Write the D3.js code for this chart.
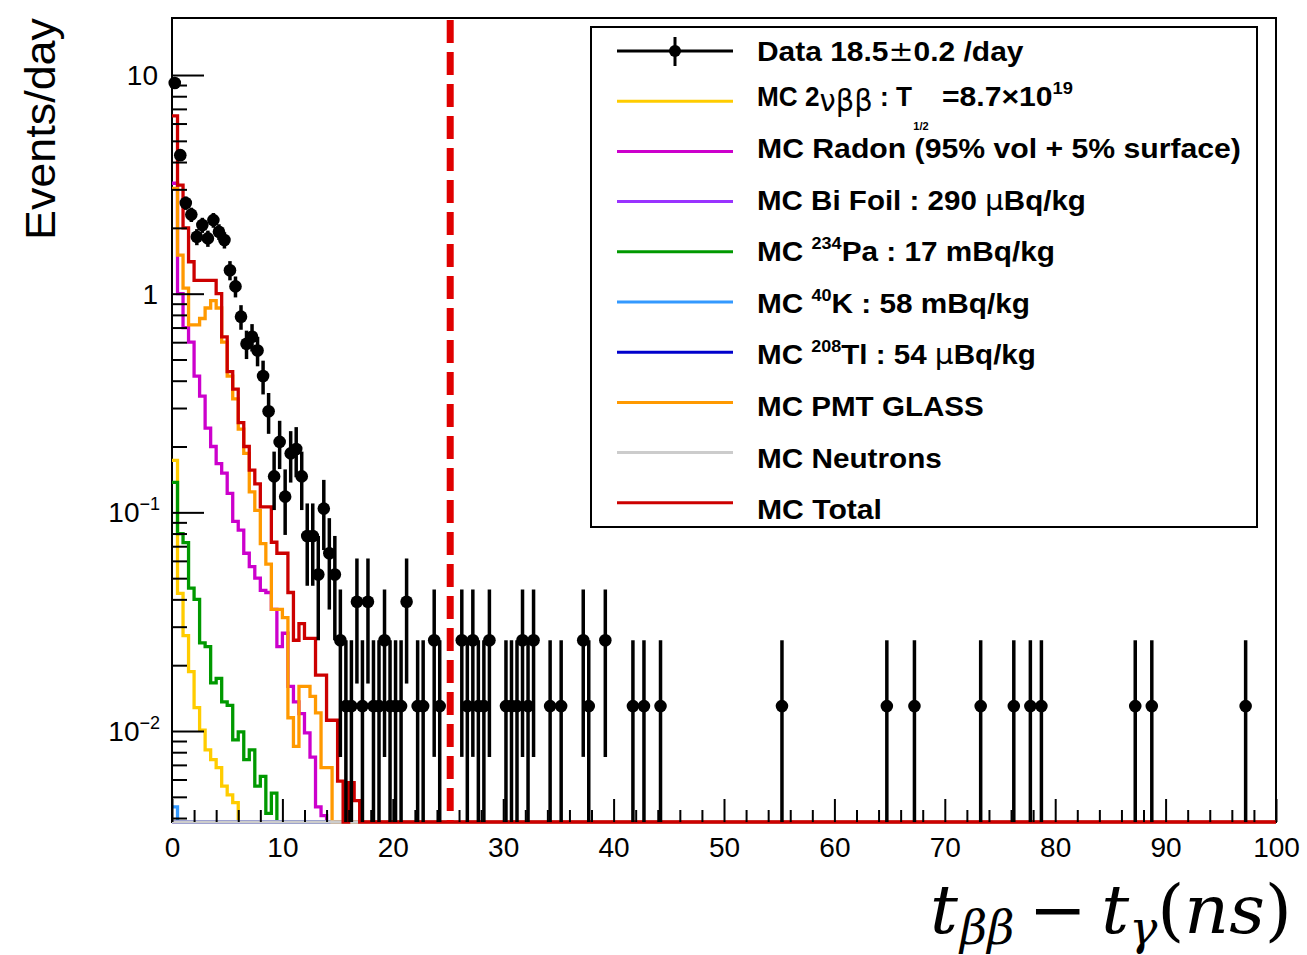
<!DOCTYPE html>
<html>
<head>
<meta charset="utf-8">
<script src="https://cdn.jsdelivr.net/npm/d3@7"></script>
<style>
  html, body { margin: 0; padding: 0; background: #ffffff; }
  svg { display: block; }
</style>
</head>
<body>
<svg id="chart" width="1307" height="955"></svg>
<script>
// ---------------- data ----------------
const binWidthNs = 0.5;          // histogram bin width in ns
const eventWeight = 0.013;       // events/day carried by one recorded event
const xTickValues = [0, 10, 20, 30, 40, 50, 60, 70, 80, 90, 100];
const yTickValues = [0.01, 0.1, 1, 10];
const yTickBase   = ["10", "10", "1", "10"];
const yTickPower  = ["\u22122", "\u22121", "", ""];
const cutTimeNs = 25.2;

// MC histograms, events/day per 0.5 ns bin starting at 0 ns (later bins are empty)
const mc2nbb    = [0.173, 0.0426, 0.0273, 0.0187, 0.0128, 0.0101, 0.0082, 0.0074, 0.0068, 0.0056, 0.0051, 0.0047];
const mcRadon   = [3.2, 1.0, 0.70, 0.60, 0.42, 0.34, 0.243, 0.20, 0.167, 0.151, 0.122, 0.091, 0.083, 0.065,
                   0.0565, 0.050, 0.044, 0.043, 0.036, 0.0243, 0.028, 0.016, 0.0136, 0.012, 0.0098, 0.0076,
                   0.0045, 0.0041];
const mcBiFoil  = [];
const mcPa234   = [0.137, 0.080, 0.0727, 0.045, 0.040, 0.0253, 0.0243, 0.0166, 0.0174, 0.0136, 0.0131, 0.0091,
                   0.0099, 0.0074, 0.0082, 0.0056, 0.0062, 0.0042, 0.0052];
const mcK40     = [0.0045];
const mcTl208   = [];
const mcPmtGlass= [3.03, 1.50, 1.06, 0.72, 0.72, 0.77, 0.86, 0.93, 0.86, 0.60, 0.42, 0.33, 0.24, 0.186, 0.124,
                   0.102, 0.072, 0.058, 0.036, 0.036, 0.033, 0.0115, 0.0085, 0.016, 0.016, 0.0144, 0.0121,
                   0.0068, 0.0068];
const mcNeutrons= [];
const mcTotal   = [6.5, 3.14, 2.0, 1.40, 1.15, 1.15, 1.15, 1.15, 1.0, 0.635, 0.44, 0.366, 0.257, 0.20, 0.156,
                   0.135, 0.106, 0.106, 0.073, 0.065, 0.065, 0.043, 0.026, 0.031, 0.0265, 0.0265, 0.018, 0.018,
                   0.0112, 0.0112, 0.0059, 0, 0.0058, 0.0048];

// Data: bin centres (ns) and rates (events/day)
const dataCentres = [
  0.25, 0.75, 1.25, 1.75, 2.25, 2.75, 3.25, 3.75, 4.25, 4.75,
  5.25, 5.75, 6.25, 6.75, 7.25, 7.75, 8.25, 8.75, 9.25, 9.75,
  10.25, 10.75, 11.25, 11.75, 12.25, 12.75, 13.25, 13.75, 14.25, 14.75,
  15.25, 15.75, 16.25, 16.75, 17.25, 17.75, 18.25, 18.75, 19.25, 19.75,
  20.25, 20.75, 21.25, 22.25, 22.75, 23.75, 24.25, 26.25, 26.75, 27.25,
  27.75, 28.25, 28.75, 30.25, 30.75, 31.25, 31.75, 32.25, 32.75, 34.25,
  35.25, 37.25, 37.75, 39.25, 41.75, 42.75, 44.25, 55.25, 64.75, 67.25,
  73.25, 76.25, 77.75, 78.75, 87.25, 88.75, 97.25
];
const dataRates = [
  9.2, 4.3, 2.6, 2.3, 1.82, 2.06, 1.79, 2.17, 1.92, 1.76,
  1.28, 1.08, 0.785, 0.59, 0.635, 0.55, 0.42, 0.29, 0.146, 0.21,
  0.118, 0.186, 0.195, 0.146, 0.078, 0.078, 0.052, 0.104, 0.065, 0.052,
  0.026, 0.013, 0.013, 0.039, 0.013, 0.039, 0.013, 0.013, 0.026, 0.013,
  0.013, 0.013, 0.039, 0.013, 0.013, 0.026, 0.013, 0.026, 0.013, 0.026,
  0.013, 0.013, 0.026, 0.013, 0.013, 0.013, 0.026, 0.013, 0.026, 0.013,
  0.013, 0.026, 0.013, 0.026, 0.013, 0.013, 0.013, 0.013, 0.013, 0.013,
  0.013, 0.013, 0.013, 0.013, 0.013, 0.013, 0.013
];

// Legend labels (text segments; sup = superscript, sym = symbol glyph)
const legendLabels = [
  [{t: "Data 18.5"}, {t: "\u00B1", sym: true}, {t: "0.2 /day"}],
  [{t: "MC 2"}, {t: "\u03BD\u03B2\u03B2", sym: true, low: true}, {t: " : T"}],
  [{t: "MC Radon (95% vol + 5% surface)"}],
  [{t: "MC Bi Foil : 290 "}, {t: "\u03BC", sym: true}, {t: "Bq/kg"}],
  [{t: "MC "}, {t: "234", sup: true}, {t: "Pa : 17 mBq/kg"}],
  [{t: "MC "}, {t: "40", sup: true}, {t: "K : 58 mBq/kg"}],
  [{t: "MC "}, {t: "208", sup: true}, {t: "Tl : 54 "}, {t: "\u03BC", sym: true}, {t: "Bq/kg"}],
  [{t: "MC PMT GLASS"}],
  [{t: "MC Neutrons"}],
  [{t: "MC Total"}]
];
const halfLifeSub = "1/2";
const halfLifeValue = [{t: "=8.7\u00D710"}, {t: "19", sup: true}];
const legendColors = ["#000000", "#ffcc00", "#cc00cc", "#9933ff", "#009900", "#3399ff", "#0000cc", "#ff9900", "#cccccc", "#cc0000"];

// ---------------- layout ----------------
const SANS = "'Liberation Sans', Arial, Helvetica, sans-serif";
const frame = {left: 172, right: 1276, top: 18, bottom: 822};
const yMin = 0.003836, yMax = 18.23;
const nBins = 200;

const svg = d3.select("#chart");
svg.append("rect").attr("width", 1307).attr("height", 955).attr("fill", "#fff");

const x = d3.scaleLinear().domain([0, 100]).range([frame.left, frame.right]);
const y = d3.scaleLog().domain([yMin, yMax]).range([frame.bottom, frame.top]);

// frame
svg.append("rect")
  .attr("x", frame.left).attr("y", frame.top)
  .attr("width", frame.right - frame.left).attr("height", frame.bottom - frame.top)
  .attr("fill", "none").attr("stroke", "#000").attr("stroke-width", 2);

// ---------------- histograms ----------------
const histSeries = [
  {values: mc2nbb,     color: legendColors[1]},
  {values: mcRadon,    color: legendColors[2]},
  {values: mcBiFoil,   color: legendColors[3]},
  {values: mcPa234,    color: legendColors[4]},
  {values: mcK40,      color: legendColors[5]},
  {values: mcTl208,    color: legendColors[6]},
  {values: mcPmtGlass, color: legendColors[7]},
  {values: mcNeutrons, color: legendColors[8]},
  {values: mcTotal,    color: legendColors[9]}
];
const stepLine = d3.line()
  .x(d => x(d[0]))
  .y(d => y(Math.min(yMax, Math.max(yMin, d[1]))))
  .curve(d3.curveStepAfter);
const gHist = svg.append("g");
histSeries.forEach(s => {
  const vals = d3.range(nBins).map(k => k < s.values.length ? s.values[k] : 0);
  const pts = vals.map((v, k) => [k * binWidthNs, v]);
  pts.push([nBins * binWidthNs, vals[nBins - 1]]);
  gHist.append("path").attr("d", stepLine(pts))
    .attr("fill", "none").attr("stroke", s.color).attr("stroke-width", 3.3)
    .attr("stroke-linejoin", "miter");
});

// ---------------- axes ----------------
const xMinor = d3.range(0, 101, 2).filter(v => v % 10 !== 0);
const gxMinor = svg.append("g").attr("transform", `translate(0,${frame.bottom})`)
  .call(d3.axisBottom(x).tickValues(xMinor).tickSize(-12).tickFormat(""));
const gxMajor = svg.append("g").attr("transform", `translate(0,${frame.bottom})`)
  .call(d3.axisBottom(x).tickValues(xTickValues).tickSize(-23).tickPadding(15).tickFormat(d3.format("d")));
[gxMinor, gxMajor].forEach(g => {
  g.select(".domain").remove();
  g.selectAll(".tick line").attr("stroke", "#000").attr("stroke-width", 2);
});
gxMajor.selectAll(".tick text")
  .attr("font-family", SANS).attr("font-size", 28).attr("fill", "#000");

const yMinor = [];
[0.001, 0.01, 0.1, 1, 10].forEach(dec => {
  for (let m = 2; m <= 9; m++) { const v = m * dec; if (v > yMin && v < yMax) yMinor.push(v); }
});
const gyMinor = svg.append("g").attr("transform", `translate(${frame.left},0)`)
  .call(d3.axisLeft(y).tickValues(yMinor).tickSize(-15).tickFormat(""));
const gyMajor = svg.append("g").attr("transform", `translate(${frame.left},0)`)
  .call(d3.axisLeft(y).tickValues(yTickValues).tickSize(-32).tickFormat(""));
[gyMinor, gyMajor].forEach(g => {
  g.select(".domain").remove();
  g.selectAll(".tick line").attr("stroke", "#000").attr("stroke-width", 2);
});
yTickValues.forEach((v, i) => {
  const t = svg.append("text")
    .attr("x", yTickPower[i] ? 160 : 158).attr("y", y(v) + 10)
    .attr("text-anchor", "end").attr("font-family", SANS).attr("font-size", 28).attr("fill", "#000");
  t.append("tspan").text(yTickBase[i]);
  if (yTickPower[i]) t.append("tspan").attr("font-size", 18).attr("dy", -12).text(yTickPower[i]);
});

// ---------------- data points ----------------
const gData = svg.append("g");
dataCentres.forEach((c, i) => {
  const v = dataRates[i];
  const err = Math.sqrt(v * eventWeight);
  const yv = y(v);
  gData.append("line")
    .attr("x1", x(c)).attr("x2", x(c))
    .attr("y1", y(Math.min(yMax, v + err))).attr("y2", y(Math.max(yMin, v - err)))
    .attr("stroke", "#000").attr("stroke-width", 3.5);
  gData.append("line")
    .attr("x1", x(c - binWidthNs / 2)).attr("x2", x(c + binWidthNs / 2))
    .attr("y1", yv).attr("y2", yv)
    .attr("stroke", "#000").attr("stroke-width", 3.5);
  gData.append("circle").attr("cx", x(c)).attr("cy", yv).attr("r", 6.3).attr("fill", "#000");
});

// cut line
svg.append("line")
  .attr("x1", x(cutTimeNs)).attr("x2", x(cutTimeNs))
  .attr("y1", 20).attr("y2", frame.bottom)
  .attr("stroke", "#e00000").attr("stroke-width", 7).attr("stroke-dasharray", "23,9");

// ---------------- helpers ----------------
function fitX(sel, x0, target) {
  const w = sel.node().getBBox().width;
  if (w > 0) sel.attr("transform", `translate(${x0},0) scale(${target / w},1) translate(${-x0},0)`);
}
function richText(parent, x0, yb, segs, size) {
  const t = parent.append("text").attr("x", x0).attr("y", yb)
    .attr("font-family", SANS).attr("font-weight", "bold").attr("font-size", size).attr("fill", "#000");
  let shift = 0;
  segs.forEach(s => {
    const sp = t.append("tspan").text(s.t);
    let target = 0;
    if (s.sup) { sp.attr("font-size", 17); target = -12; }
    if (s.sym) { sp.attr("font-weight", "normal").attr("font-family", "'DejaVu Sans', sans-serif"); }
    if (s.low) { sp.attr("font-size", 31); target = 5; }
    if (target !== shift) { sp.attr("dy", target - shift); shift = target; }
  });
  return t;
}

// ---------------- legend ----------------
const gLeg = svg.append("g");
gLeg.append("rect").attr("x", 591).attr("y", 27).attr("width", 666).attr("height", 500)
  .attr("fill", "#fff").attr("stroke", "#000").attr("stroke-width", 2);
const legendTextWidths = [267, 155, 484, 329, 298, 273, 279, 227, 185, 125];
legendLabels.forEach((segs, i) => {
  const ly = 51 + 50.2 * i;
  const by = i === 0 ? 61 : (i === 1 ? 106.5 : 158 + 51.6 * (i - 2));
  gLeg.append("line").attr("x1", 617).attr("x2", 733).attr("y1", ly).attr("y2", ly)
    .attr("stroke", legendColors[i]).attr("stroke-width", 3);
  if (i === 0) {
    gLeg.append("line").attr("x1", 675).attr("x2", 675).attr("y1", ly - 14).attr("y2", ly + 15)
      .attr("stroke", "#000").attr("stroke-width", 3);
    gLeg.append("circle").attr("cx", 675).attr("cy", ly).attr("r", 6).attr("fill", "#000");
  }
  const t = richText(gLeg, 757, by, segs, 28);
  fitX(t, 757, legendTextWidths[i]);
  if (i === 1) {
    gLeg.append("text").attr("x", 921).attr("y", 130).attr("text-anchor", "middle")
      .attr("font-family", SANS).attr("font-weight", "bold").attr("font-size", 11).text(halfLifeSub);
    const t2 = richText(gLeg, 942, by, halfLifeValue, 28);
    fitX(t2, 942, 131);
  }
});

// ---------------- axis titles ----------------
svg.append("text")
  .attr("transform", "translate(55,129) rotate(-90)")
  .attr("text-anchor", "middle")
  .attr("font-family", SANS).attr("font-size", 42).attr("fill", "#000")
  .attr("textLength", 222).attr("lengthAdjust", "spacingAndGlyphs")
  .text("Events/day");

const xt = svg.append("text").attr("x", 930).attr("y", 933)
  .attr("font-family", "'DejaVu Serif', 'Liberation Serif', serif").attr("font-size", 68).attr("fill", "#000");
xt.append("tspan").attr("font-style", "italic").text("t");
xt.append("tspan").attr("font-style", "italic").attr("font-size", 46).attr("dy", 11).attr("dx", 2).text("\u03B2\u03B2");
xt.append("tspan").attr("dy", -11).attr("dx", 14).text("\u2212");
xt.append("tspan").attr("font-style", "italic").attr("dx", 14).text("t");
xt.append("tspan").attr("font-style", "italic").attr("font-size", 46).attr("dy", 11).text("\u03B3");
xt.append("tspan").attr("dy", -11).text("(");
xt.append("tspan").attr("font-style", "italic").text("ns");
xt.append("tspan").text(")");
fitX(xt, 930, 362);
</script>
</body>
</html>
